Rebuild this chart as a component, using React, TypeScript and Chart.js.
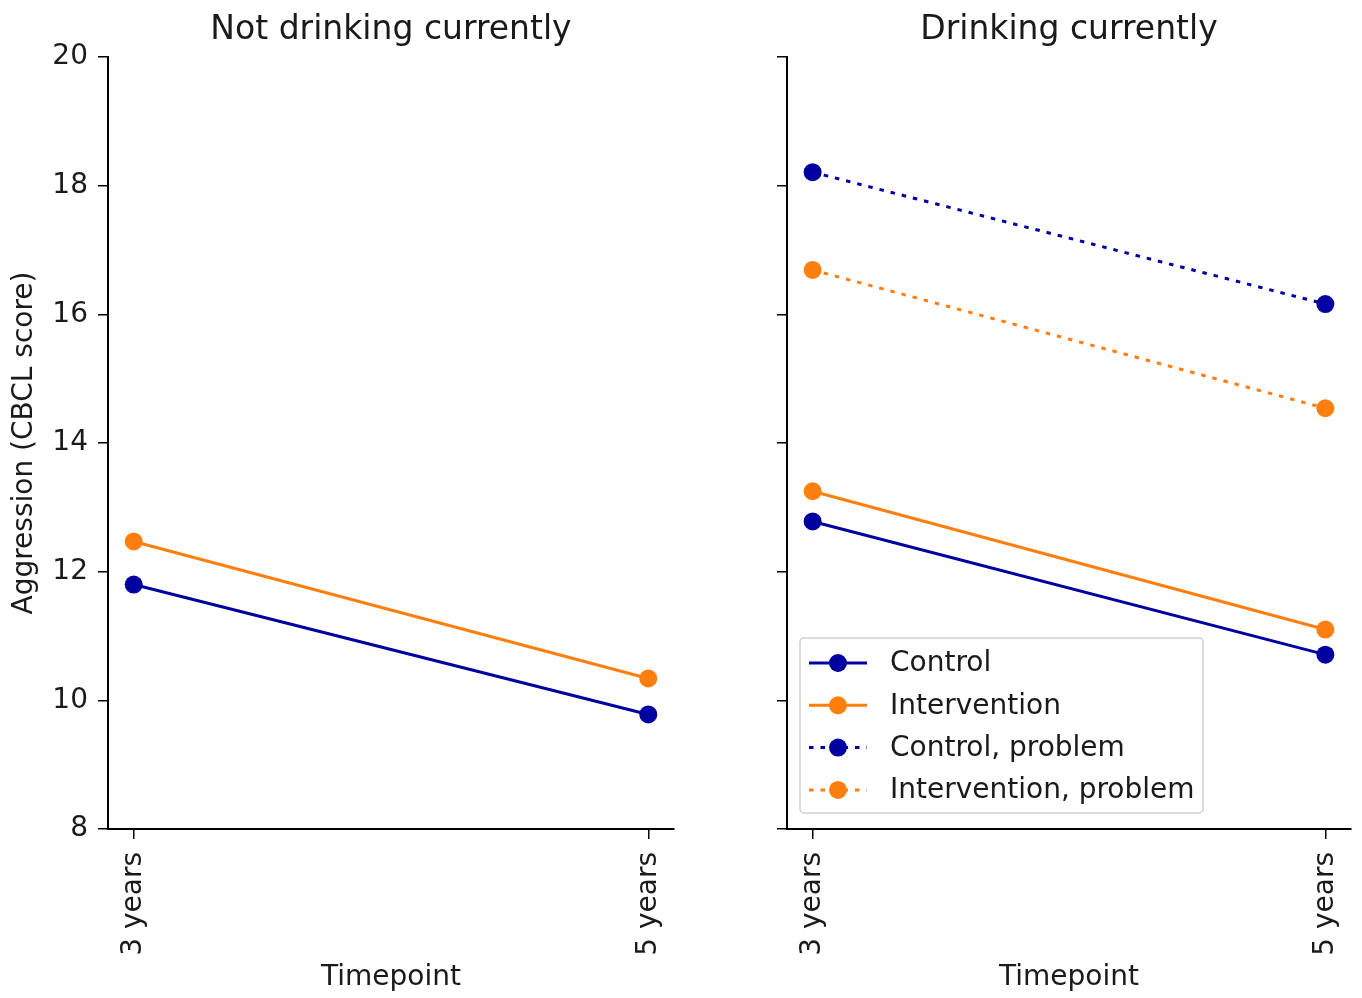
import React, { useEffect, useRef } from "react";
import { Chart, registerables } from "chart.js";

Chart.register(...registerables);

// ---------- data ----------
const TIMEPOINTS = ["3 years", "5 years"];
const Y_TICKS = [8, 10, 12, 14, 16, 18, 20];
const PANEL_TITLES = ["Not drinking currently", "Drinking currently"];
const SERIES_NAMES = ["Control", "Intervention", "Control, problem", "Intervention, problem"];
const X_TITLE = "Timepoint";
const Y_TITLE = "Aggression (CBCL score)";

const NOT_DRINKING_CONTROL = [11.8, 9.78];
const NOT_DRINKING_INTERVENTION = [12.47, 10.34];
const DRINKING_CONTROL = [12.78, 10.71];
const DRINKING_INTERVENTION = [13.25, 11.1];
const DRINKING_CONTROL_PROBLEM = [18.21, 16.16];
const DRINKING_INTERVENTION_PROBLEM = [16.69, 14.54];

// ---------- styles ----------
const BLUE = "#0000a0";
const ORANGE = "#ff7f0e";
const TEXT = "#1a1a1a";
const FONT = "'DejaVu Sans', sans-serif";
const DOT = [4.5, 7];

const makeDataset = (label: string, values: number[], color: string, dotted: boolean) => ({
  label,
  data: values.map((y, i) => ({ x: i, y })),
  borderColor: color,
  backgroundColor: color,
  pointBackgroundColor: color,
  pointBorderColor: color,
  borderWidth: 3,
  pointRadius: 9,
  pointHoverRadius: 9,
  pointBorderWidth: 0,
  borderDash: dotted ? DOT : [],
  borderCapStyle: "butt",
  tension: 0,
  clip: false,
  fill: false,
});

const titlePlugin = {
  id: "panelTitle",
  afterDraw(chart: any, _args: any, opts: any) {
    const { ctx, chartArea } = chart;
    ctx.save();
    ctx.font = `33px ${FONT}`;
    ctx.fillStyle = TEXT;
    ctx.textAlign = "center";
    ctx.textBaseline = "alphabetic";
    ctx.fillText(opts.text, (chartArea.left + chartArea.right) / 2, opts.y);
    ctx.restore();
  },
};

const legendPlugin = {
  id: "lineLegend",
  afterDraw(chart: any, _args: any, opts: any) {
    if (!opts || !opts.show) return;
    const { ctx, chartArea } = chart;
    const w = 403;
    const h = 175;
    const x = chartArea.left + 13;
    const y = chartArea.bottom - 16 - h;
    ctx.save();
    ctx.beginPath();
    if (ctx.roundRect) ctx.roundRect(x, y, w, h, 4);
    else ctx.rect(x, y, w, h);
    ctx.fillStyle = "rgba(255,255,255,0.85)";
    ctx.fill();
    ctx.strokeStyle = "#cfcfcf";
    ctx.lineWidth = 1.5;
    ctx.stroke();
    chart.data.datasets.forEach((d: any, i: number) => {
      const cy = y + 25 + i * 42.3;
      const hx0 = x + 9;
      const hx1 = x + 67;
      ctx.beginPath();
      ctx.setLineDash(d.borderDash || []);
      ctx.lineCap = "butt";
      ctx.strokeStyle = d.borderColor;
      ctx.lineWidth = d.borderWidth;
      ctx.moveTo(hx0, cy);
      ctx.lineTo(hx1, cy);
      ctx.stroke();
      ctx.setLineDash([]);
      ctx.beginPath();
      ctx.arc((hx0 + hx1) / 2, cy, d.pointRadius, 0, Math.PI * 2);
      ctx.fillStyle = d.pointBackgroundColor;
      ctx.fill();
      ctx.font = `28px ${FONT}`;
      ctx.fillStyle = TEXT;
      ctx.textAlign = "left";
      ctx.textBaseline = "middle";
      ctx.fillText(d.label, x + 90, cy + 1);
    });
    ctx.restore();
  },
};

function buildConfig(
  datasets: any[],
  title: string,
  yAxisWidth: number,
  rightPad: number,
  showYLabels: boolean,
  showLegend: boolean
): any {
  return {
    type: "line",
    data: { datasets },
    plugins: [titlePlugin, legendPlugin],
    options: {
      responsive: false,
      animation: false,
      events: [],
      layout: { padding: { left: 0, right: rightPad, top: 57, bottom: 0 } },
      plugins: {
        legend: { display: false },
        tooltip: { enabled: false },
        title: { display: false },
        panelTitle: { text: title, y: 39 },
        lineLegend: { show: showLegend },
      },
      scales: {
        x: {
          type: "linear",
          min: -0.05,
          max: 1.05,
          afterBuildTicks: (scale: any) => {
            scale.ticks = TIMEPOINTS.map((_, i) => ({ value: i }));
          },
          afterFit: (scale: any) => {
            scale.height = 169;
          },
          ticks: {
            autoSkip: false,
            minRotation: 90,
            maxRotation: 90,
            padding: 13,
            color: TEXT,
            font: { family: FONT, size: 28 },
            callback: (v: any) => TIMEPOINTS[Math.round(Number(v))],
          },
          grid: {
            drawOnChartArea: false,
            drawTicks: true,
            tickLength: 10,
            color: "#000",
            lineWidth: 1.5,
          },
          border: { display: true, color: "#000", width: 2 },
          title: {
            display: true,
            text: X_TITLE,
            color: TEXT,
            font: { family: FONT, size: 28 },
            padding: { top: 0, bottom: 3 },
          },
        },
        y: {
          type: "linear",
          min: 8,
          max: 20,
          afterBuildTicks: (scale: any) => {
            scale.ticks = Y_TICKS.map((v) => ({ value: v }));
          },
          afterFit: (scale: any) => {
            scale.width = yAxisWidth;
          },
          ticks: {
            display: showYLabels,
            padding: 10,
            color: TEXT,
            font: { family: FONT, size: 28 },
          },
          grid: {
            drawOnChartArea: false,
            drawTicks: true,
            tickLength: 10,
            color: "#000",
            lineWidth: 1.5,
          },
          border: { display: true, color: "#000", width: 2 },
          title: {
            display: showYLabels,
            text: Y_TITLE,
            color: TEXT,
            font: { family: FONT, size: 28 },
            padding: { top: 8, bottom: 0 },
          },
        },
      },
    },
  };
}

export default function App() {
  const leftRef = useRef<HTMLCanvasElement | null>(null);
  const rightRef = useRef<HTMLCanvasElement | null>(null);

  useEffect(() => {
    const leftSets = [
      makeDataset(SERIES_NAMES[0], NOT_DRINKING_CONTROL, BLUE, false),
      makeDataset(SERIES_NAMES[1], NOT_DRINKING_INTERVENTION, ORANGE, false),
    ];
    const rightSets = [
      makeDataset(SERIES_NAMES[0], DRINKING_CONTROL, BLUE, false),
      makeDataset(SERIES_NAMES[1], DRINKING_INTERVENTION, ORANGE, false),
      makeDataset(SERIES_NAMES[2], DRINKING_CONTROL_PROBLEM, BLUE, true),
      makeDataset(SERIES_NAMES[3], DRINKING_INTERVENTION_PROBLEM, ORANGE, true),
    ];
    const left = new Chart(leftRef.current as HTMLCanvasElement, buildConfig(leftSets, PANEL_TITLES[0], 108, 26, true, false));
    const right = new Chart(rightRef.current as HTMLCanvasElement, buildConfig(rightSets, PANEL_TITLES[1], 107, 29, false, true));
    return () => {
      left.destroy();
      right.destroy();
    };
  }, []);

  return (
    <div style={{ position: "fixed", left: 0, top: 0, width: 1362, height: 998, background: "#fff", overflow: "hidden" }}>
      <canvas
        ref={leftRef}
        width={700}
        height={998}
        style={{ position: "absolute", left: 0, top: 0, width: 700, height: 998 }}
      />
      <canvas
        ref={rightRef}
        width={700}
        height={998}
        style={{ position: "absolute", left: 680, top: 0, width: 700, height: 998 }}
      />
    </div>
  );
}
